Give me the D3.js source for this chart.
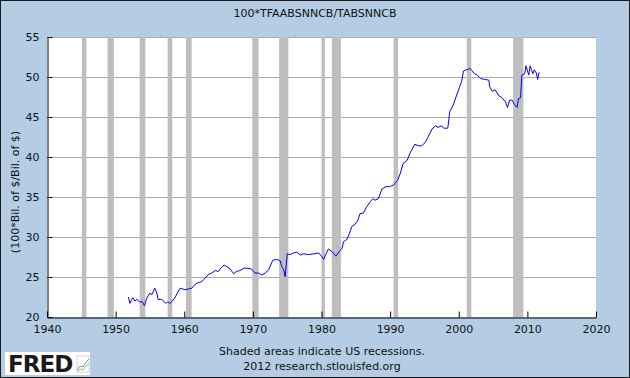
<!DOCTYPE html>
<html>
<head>
<meta charset="utf-8">
<script src="https://cdn.jsdelivr.net/npm/d3@7"></script>
<style>
  html, body { margin: 0; padding: 0; }
  body { width: 630px; height: 378px; overflow: hidden; }
  text { font-family: "DejaVu Sans", Verdana, sans-serif; }
</style>
</head>
<body>
<div id="chart"></div>
<script>
// ratio series (year, value)
const years = [
  1951.85, 1952.1, 1952.3, 1952.5, 1952.8, 1953.1, 1953.5, 1953.9, 1954.2, 1954.5,
  1955.0, 1955.3, 1955.7, 1956.0, 1956.2, 1956.7, 1957.0, 1957.3, 1957.6, 1957.9,
  1958.3, 1958.7, 1959.0, 1959.4, 1959.8, 1960.1, 1960.6, 1961.1, 1961.6, 1962.0,
  1962.5, 1963.0, 1963.5, 1964.0, 1964.5, 1965.0, 1965.3, 1965.8, 1966.2, 1966.7,
  1967.2, 1967.6, 1968.1, 1968.7, 1969.2, 1969.8, 1970.3, 1970.8, 1971.3, 1971.8,
  1972.3, 1972.6, 1972.9, 1973.5, 1974.0, 1974.2, 1974.5, 1974.7, 1975.0, 1975.4,
  1975.9, 1976.4, 1976.9, 1977.4, 1978.1, 1978.9, 1979.6, 1980.0, 1980.3, 1980.6,
  1981.0, 1981.5, 1982.1, 1982.6, 1983.0, 1983.2, 1983.7, 1984.1, 1984.4, 1984.9,
  1985.3, 1985.6, 1986.1, 1986.6, 1987.1, 1987.5, 1987.8, 1988.3, 1988.8, 1989.4,
  1989.9, 1990.5, 1991.1, 1991.5, 1991.9, 1992.5, 1992.9, 1993.6, 1994.1, 1994.6,
  1995.1, 1995.6, 1996.1, 1996.6, 1997.0, 1997.5, 1997.8, 1998.4, 1998.7, 1999.2,
  1999.6, 2000.1, 2000.4, 2000.7, 2001.1, 2001.4, 2001.6, 2001.9, 2002.3, 2002.7,
  2003.2, 2003.8, 2004.4, 2004.5, 2004.9, 2005.3, 2005.9, 2006.2, 2006.8, 2007.1,
  2007.4, 2007.8, 2008.1, 2008.5, 2008.7, 2009.0, 2009.2, 2009.6, 2009.8, 2010.2,
  2010.4, 2010.8, 2011.0, 2011.3, 2011.5, 2011.7
];
const values = [
  22.5, 21.7, 22.1, 22.4, 22.0, 22.2, 21.9, 21.9, 21.4, 22.3,
  23.0, 22.8, 23.6, 23.0, 22.2, 22.2, 22.0, 21.7, 21.9, 21.7,
  22.0, 22.5, 23.0, 23.6, 23.5, 23.4, 23.5, 23.6, 24.1, 24.3,
  24.4, 24.8, 25.3, 25.5, 25.8, 25.7, 26.1, 26.5, 26.3, 26.0,
  25.4, 25.7, 25.8, 26.1, 26.1, 26.0, 25.5, 25.5, 25.25, 25.5,
  25.9, 26.5, 27.1, 27.2, 27.0, 26.3, 25.9, 25.0, 27.9, 27.8,
  28.0, 28.1, 27.75, 27.9, 27.8, 27.9, 28.0, 27.6, 27.2, 27.8,
  28.5, 28.2, 27.6, 28.2, 28.6, 29.4, 29.7, 30.5, 31.3, 31.6,
  32.1, 32.9, 33.0, 33.8, 34.4, 34.8, 34.6, 34.8, 36.0, 36.3,
  36.3, 36.5, 37.1, 38.0, 39.2, 39.6, 40.5, 41.6, 41.4, 41.4,
  41.8, 42.6, 43.5, 43.9, 43.7, 43.9, 43.6, 43.6, 45.7, 46.5,
  47.5, 48.7, 49.4, 50.75, 50.9, 50.95, 51.1, 50.8, 50.4, 50.25,
  49.8, 49.7, 49.6, 48.8, 48.2, 48.4, 47.6, 47.5, 46.9, 46.2,
  47.1, 47.1, 46.6, 46.2, 47.3, 47.4, 50.25, 50.4, 51.4, 50.25,
  51.4, 50.4, 50.9, 50.5, 49.7, 50.6
];

// NBER recessions (start, end) as decimal years
const recStart = [1945.08, 1948.83, 1953.5, 1957.58, 1960.25, 1969.92, 1973.83, 1980.0, 1981.5, 1990.5, 2001.17, 2007.92];
const recEnd   = [1945.75, 1949.75, 1954.33, 1958.25, 1961.08, 1970.83, 1975.17, 1980.5, 1982.83, 1991.17, 2001.83, 2009.42];

const xTicks = [1940, 1950, 1960, 1970, 1980, 1990, 2000, 2010, 2020];
const yTicks = [20, 25, 30, 35, 40, 45, 50, 55];

const width = 630, height = 378;
const m = { left: 47, right: 34, top: 37, bottom: 61 };

const svg = d3.select("#chart").append("svg")
  .attr("width", width).attr("height", height);

svg.append("rect")
  .attr("x", 0.5).attr("y", 0.5)
  .attr("width", width - 1).attr("height", height - 1)
  .attr("fill", "#b4cde4").attr("stroke", "#1a1a1a");

const x = d3.scaleLinear().domain([1940, 2020]).range([m.left, width - m.right]);
const y = d3.scaleLinear().domain([20, 55]).range([height - m.bottom, m.top]);

// plot background
svg.append("rect")
  .attr("x", x(1940)).attr("y", y(55))
  .attr("width", x(2020) - x(1940)).attr("height", y(20) - y(55))
  .attr("fill", "#fff");

// grid
svg.append("g").selectAll("line")
  .data(yTicks.filter(d => d > 20))
  .join("line")
  .attr("x1", x(1940)).attr("x2", x(2020))
  .attr("y1", d => Math.round(y(d)) + 0.5).attr("y2", d => Math.round(y(d)) + 0.5)
  .attr("stroke", "#aaaaaa");

// recession shading
svg.append("g").selectAll("rect")
  .data(recStart.map((s, i) => [s, recEnd[i]]))
  .join("rect")
  .attr("x", d => x(d[0]))
  .attr("width", d => x(d[1]) - x(d[0]))
  .attr("y", y(55)).attr("height", y(20) - y(55))
  .attr("fill", "#bebebe");

// series
const line = d3.line()
  .x((d, i) => x(years[i]))
  .y(d => y(d));

svg.append("path")
  .attr("d", line(values))
  .attr("fill", "none")
  .attr("stroke", "#0000ff")
  .attr("stroke-width", 1);

// axes
const xAxis = svg.append("g")
  .attr("transform", `translate(0,${Math.round(y(20)) + 0.5})`)
  .call(d3.axisBottom(x).tickValues(xTicks).tickFormat(d3.format("d")).tickSizeInner(-6).tickSizeOuter(0).tickPadding(8));
xAxis.select(".domain").attr("stroke", "#000");
xAxis.selectAll("text").attr("font-size", 11).attr("fill", "#111").attr("font-family", "DejaVu Sans");

const yAxis = svg.append("g")
  .attr("transform", `translate(${x(1940) + 0.5},0)`)
  .call(d3.axisLeft(y).tickValues(yTicks).tickSizeInner(-5).tickSizeOuter(0).tickPadding(8));
yAxis.select(".domain").attr("stroke", "#000");
yAxis.selectAll("text").attr("font-size", 11).attr("fill", "#111").attr("font-family", "DejaVu Sans");

// title + labels
svg.append("text")
  .attr("x", 315).attr("y", 17)
  .attr("text-anchor", "middle").attr("font-size", 11).attr("fill", "#111")
  .text("100*TFAABSNNCB/TABSNNCB");

svg.append("text")
  .attr("transform", "translate(19,192) rotate(-90)")
  .attr("text-anchor", "middle").attr("font-size", 11).attr("fill", "#111")
  .text("(100*Bil. of $/Bil. of $)");

svg.append("text")
  .attr("x", 322).attr("y", 355)
  .attr("text-anchor", "middle").attr("font-size", 11).attr("fill", "#111")
  .text("Shaded areas indicate US recessions.");
svg.append("text")
  .attr("x", 322).attr("y", 370)
  .attr("text-anchor", "middle").attr("font-size", 11).attr("fill", "#111")
  .text("2012 research.stlouisfed.org");

// FRED logo
const logo = svg.append("g").attr("transform", "translate(5,352)");
logo.append("rect").attr("width", 85).attr("height", 23).attr("fill", "#fff");
logo.append("text")
  .attr("x", 3).attr("y", 20)
  .attr("font-family", "'Liberation Sans', Arial, sans-serif")
  .attr("font-weight", "bold").attr("font-size", 23)
  .attr("letter-spacing", -1)
  .attr("fill", "#1a1a1a")
  .text("FRED");
logo.append("rect").attr("x", 72).attr("y", 4).attr("width", 12).attr("height", 16)
  .attr("fill", "none").attr("stroke", "#ccc").attr("stroke-width", 0.8);
logo.append("path").attr("d", "M72,18 L75,14 L78,15 L81,10 L84,7")
  .attr("fill", "none").attr("stroke", "#6a9bd8").attr("stroke-width", 1);
logo.append("path").attr("d", "M72,20 L75,17 L78,18 L81,14 L84,12")
  .attr("fill", "none").attr("stroke", "#8cc06a").attr("stroke-width", 1);
</script>
</body>
</html>
